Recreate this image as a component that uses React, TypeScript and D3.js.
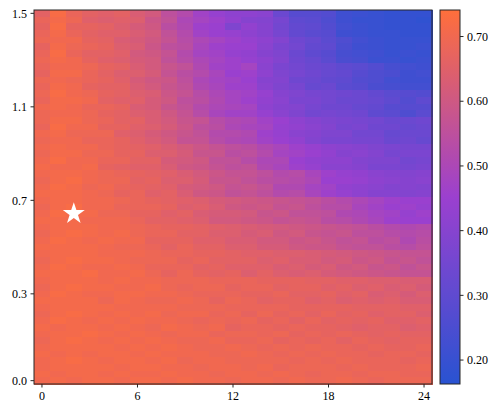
import React from "react";
import * as d3 from "d3";

// columns 0..24, rows listed from the top (y = 1.5) down to the bottom (y = 0.0)
const xValues = d3.range(0, 25);
const xTicks = [0, 6, 12, 18, 24];

// row index (0 = bottom) where each y tick sits, and its label
const yTickRows = [0, 13, 27, 41, 55];
const yTickLabels = ["0.0", "0.3", "0.7", "1.1", "1.5"];

const colorTicks = [0.2, 0.3, 0.4, 0.5, 0.6, 0.7];
const colorDomain = [0.163, 0.741];

// values in hundredths, top row first
const cellRows: number[][] = [
  [66, 72, 68, 66, 65, 66, 63, 61, 55, 52, 47, 44, 42, 42, 41, 33, 28, 28, 27, 22, 21, 20, 19, 19, 19],
  [68, 71, 69, 65, 64, 65, 64, 59, 56, 50, 48, 46, 43, 40, 39, 36, 30, 29, 26, 22, 20, 20, 19, 19, 18],
  [67, 72, 67, 67, 66, 64, 62, 60, 54, 51, 46, 45, 38, 43, 40, 35, 31, 30, 27, 23, 21, 20, 19, 19, 19],
  [68, 71, 68, 66, 65, 65, 63, 61, 56, 52, 47, 45, 44, 42, 40, 36, 31, 29, 28, 22, 21, 20, 20, 19, 19],
  [69, 70, 70, 67, 66, 63, 62, 60, 57, 53, 50, 48, 46, 44, 42, 39, 34, 32, 29, 26, 23, 21, 20, 20, 20],
  [67, 71, 69, 68, 67, 64, 63, 59, 55, 54, 49, 46, 45, 45, 41, 37, 35, 31, 30, 25, 22, 21, 20, 20, 21],
  [68, 72, 68, 66, 66, 65, 61, 60, 57, 52, 48, 47, 44, 43, 40, 38, 33, 30, 28, 24, 23, 22, 20, 21, 20],
  [69, 71, 70, 67, 65, 64, 62, 61, 56, 53, 50, 48, 46, 44, 42, 39, 34, 32, 29, 25, 24, 21, 21, 20, 21],
  [68, 70, 70, 69, 67, 66, 63, 61, 58, 56, 51, 47, 46, 48, 41, 37, 35, 33, 32, 30, 29, 27, 24, 23, 22],
  [67, 71, 71, 68, 66, 64, 64, 62, 57, 54, 52, 49, 45, 46, 42, 38, 36, 34, 32, 31, 28, 26, 25, 22, 23],
  [69, 70, 69, 68, 67, 65, 62, 60, 59, 55, 50, 48, 47, 45, 40, 39, 34, 33, 31, 30, 27, 26, 23, 22, 22],
  [68, 71, 70, 67, 66, 66, 63, 61, 58, 56, 51, 49, 46, 46, 41, 38, 36, 32, 33, 29, 28, 25, 24, 23, 23],
  [69, 72, 70, 69, 67, 66, 64, 63, 59, 57, 53, 50, 48, 47, 44, 40, 38, 36, 35, 34, 33, 31, 29, 28, 27],
  [68, 71, 71, 70, 66, 65, 65, 62, 60, 55, 54, 51, 48, 46, 43, 41, 37, 37, 35, 33, 33, 32, 30, 27, 30],
  [70, 71, 70, 68, 68, 67, 63, 62, 58, 56, 52, 50, 49, 48, 42, 40, 39, 36, 34, 34, 32, 31, 28, 28, 28],
  [69, 70, 70, 69, 67, 66, 64, 63, 60, 57, 53, 49, 47, 47, 44, 41, 38, 35, 36, 35, 34, 30, 29, 26, 29],
  [69, 71, 71, 69, 68, 66, 66, 63, 61, 58, 57, 53, 51, 50, 47, 45, 42, 40, 38, 37, 36, 35, 33, 33, 34],
  [68, 72, 70, 70, 67, 67, 65, 64, 62, 59, 55, 54, 50, 49, 48, 44, 43, 41, 39, 36, 37, 34, 34, 32, 33],
  [70, 71, 69, 69, 69, 65, 64, 62, 60, 58, 56, 52, 52, 51, 46, 44, 41, 40, 38, 38, 35, 35, 32, 33, 33],
  [69, 70, 70, 68, 68, 67, 65, 63, 61, 57, 57, 53, 51, 50, 47, 45, 43, 39, 37, 37, 36, 36, 33, 34, 32],
  [70, 71, 70, 70, 68, 67, 66, 65, 63, 61, 59, 57, 55, 54, 51, 49, 46, 44, 42, 41, 40, 38, 37, 36, 36],
  [69, 71, 71, 69, 69, 67, 67, 64, 64, 62, 58, 58, 54, 55, 52, 48, 47, 45, 43, 40, 41, 39, 36, 37, 37],
  [70, 72, 70, 70, 68, 68, 66, 66, 62, 61, 60, 56, 56, 53, 50, 50, 45, 43, 42, 42, 39, 38, 38, 35, 36],
  [71, 70, 70, 71, 67, 66, 65, 65, 63, 60, 59, 57, 55, 56, 51, 49, 46, 44, 41, 41, 40, 37, 37, 36, 37],
  [70, 71, 71, 70, 69, 68, 67, 66, 65, 63, 61, 59, 57, 57, 55, 52, 53, 49, 46, 44, 43, 41, 40, 39, 40],
  [69, 71, 72, 70, 69, 69, 66, 67, 64, 64, 62, 58, 58, 56, 54, 53, 52, 50, 45, 45, 44, 42, 41, 40, 41],
  [70, 72, 71, 69, 70, 68, 67, 66, 65, 62, 61, 60, 57, 58, 56, 51, 51, 48, 47, 43, 42, 41, 39, 40, 39],
  [71, 71, 71, 70, 69, 67, 68, 65, 66, 63, 60, 59, 56, 57, 55, 52, 53, 49, 46, 44, 42, 40, 40, 39, 40],
  [70, 71, 71, 70, 70, 69, 68, 67, 66, 65, 64, 62, 61, 60, 59, 58, 57, 56, 54, 52, 50, 48, 46, 45, 45],
  [69, 71, 72, 70, 70, 68, 68, 68, 67, 64, 65, 63, 60, 59, 60, 57, 58, 55, 53, 53, 49, 47, 45, 46, 44],
  [70, 72, 71, 71, 69, 69, 67, 67, 65, 66, 63, 62, 62, 61, 58, 59, 56, 56, 55, 51, 50, 48, 47, 44, 46],
  [71, 71, 71, 70, 70, 70, 68, 66, 66, 65, 64, 61, 61, 60, 59, 57, 58, 57, 54, 53, 51, 49, 46, 45, 45],
  [70, 71, 71, 71, 70, 70, 69, 68, 67, 67, 66, 65, 64, 63, 62, 61, 60, 59, 58, 57, 56, 54, 52, 51, 52],
  [69, 71, 72, 71, 70, 71, 69, 68, 68, 66, 66, 64, 64, 62, 63, 60, 61, 58, 57, 58, 55, 55, 53, 52, 53],
  [70, 72, 71, 70, 71, 70, 70, 67, 67, 67, 65, 65, 63, 63, 61, 61, 59, 60, 58, 56, 57, 54, 55, 51, 54],
  [71, 71, 71, 71, 70, 69, 69, 68, 66, 68, 66, 66, 64, 64, 62, 62, 60, 59, 59, 57, 56, 56, 54, 53, 55],
  [70, 71, 71, 71, 70, 70, 70, 69, 68, 68, 67, 67, 66, 65, 65, 64, 64, 63, 62, 61, 60, 59, 58, 57, 57],
  [69, 71, 72, 71, 71, 70, 69, 69, 69, 67, 68, 66, 66, 66, 64, 65, 63, 63, 61, 62, 59, 60, 57, 58, 56],
  [70, 72, 71, 70, 70, 71, 70, 68, 68, 68, 66, 67, 65, 65, 65, 63, 64, 62, 63, 60, 61, 58, 59, 56, 58],
  [71, 71, 71, 72, 70, 70, 71, 69, 67, 69, 67, 66, 67, 64, 66, 64, 63, 64, 62, 61, 60, 59, 58, 57, 57],
  [70, 71, 71, 71, 70, 71, 70, 70, 69, 69, 69, 68, 68, 68, 67, 67, 67, 66, 66, 65, 65, 64, 64, 63, 63],
  [69, 71, 72, 71, 71, 70, 70, 71, 69, 68, 69, 69, 67, 68, 68, 66, 67, 67, 65, 66, 64, 65, 63, 64, 62],
  [70, 72, 71, 70, 70, 71, 71, 70, 70, 69, 68, 68, 68, 67, 67, 68, 66, 66, 67, 65, 66, 63, 64, 62, 64],
  [71, 71, 71, 71, 69, 71, 70, 69, 69, 70, 69, 67, 69, 68, 66, 67, 67, 65, 66, 64, 65, 64, 65, 63, 63],
  [70, 71, 71, 71, 71, 70, 70, 70, 70, 69, 69, 69, 68, 68, 68, 68, 67, 67, 67, 67, 66, 66, 66, 65, 65],
  [69, 71, 72, 71, 70, 71, 70, 71, 69, 70, 70, 68, 69, 67, 69, 67, 68, 66, 68, 66, 67, 65, 66, 66, 64],
  [70, 72, 71, 70, 71, 70, 71, 70, 70, 69, 68, 69, 68, 69, 67, 68, 66, 68, 66, 67, 66, 67, 65, 65, 66],
  [71, 70, 71, 71, 70, 71, 70, 69, 71, 70, 69, 70, 67, 68, 68, 67, 68, 67, 67, 66, 65, 66, 66, 64, 65],
  [70, 71, 71, 72, 71, 70, 71, 70, 69, 70, 70, 68, 69, 69, 68, 69, 67, 68, 67, 68, 67, 66, 67, 66, 66],
  [69, 71, 72, 71, 70, 71, 70, 71, 70, 69, 69, 70, 68, 68, 69, 67, 68, 67, 68, 66, 68, 67, 66, 67, 67],
  [70, 71, 71, 71, 71, 70, 71, 70, 71, 70, 69, 69, 70, 69, 68, 69, 68, 69, 68, 68, 67, 68, 67, 67, 68],
  [71, 70, 71, 70, 71, 71, 70, 71, 70, 70, 70, 69, 69, 70, 69, 68, 69, 68, 69, 68, 68, 67, 68, 68, 67],
  [70, 71, 72, 71, 70, 71, 71, 70, 71, 69, 70, 70, 69, 69, 69, 69, 68, 69, 68, 69, 68, 68, 68, 67, 68],
  [70, 71, 71, 71, 71, 70, 71, 71, 70, 70, 69, 70, 70, 69, 70, 68, 69, 69, 69, 68, 69, 68, 68, 68, 69],
  [71, 70, 71, 71, 70, 71, 70, 70, 71, 70, 70, 69, 70, 70, 69, 70, 69, 68, 69, 69, 68, 69, 69, 68, 68],
  [70, 71, 70, 71, 71, 70, 71, 71, 70, 71, 70, 70, 69, 70, 70, 69, 70, 69, 69, 70, 69, 68, 69, 69, 69],
];

// the white star marker (column, row from bottom)
const starPoint = { col: 2, row: 25 };

const WIDTH = 498;
const HEIGHT = 413;
const plot = { left: 34, right: 432, top: 10, bottom: 384 };
const bar = { left: 440, right: 460, top: 10, bottom: 384 };
const font = "'Liberation Serif', 'DejaVu Serif', serif";
const frame = "#262626";

const App = () => {
  const nRows = cellRows.length;

  const x = d3
    .scaleLinear()
    .domain([-0.5, xValues.length - 0.5])
    .range([plot.left, plot.right]);

  const y = d3
    .scaleLinear()
    .domain([-0.5, nRows - 0.5])
    .range([plot.bottom, plot.top]);

  const color = d3
    .scaleLinear<string>()
    .domain([colorDomain[0], (colorDomain[0] + colorDomain[1]) / 2, colorDomain[1]])
    .range(["#2953d1", "#9b40cf", "#ff6f3b"])
    .interpolate(d3.interpolateRgb)
    .clamp(true);

  const cScale = d3
    .scaleLinear()
    .domain(colorDomain)
    .range([bar.bottom, bar.top]);

  const cells = cellRows.flatMap((row, i) =>
    row.map((v, c) => ({ col: xValues[c], row: nRows - 1 - i, value: v / 100 }))
  );

  const gradStops = d3.range(0, 1.0001, 0.05).map((t) => ({
    offset: t,
    color: color(colorDomain[0] + t * (colorDomain[1] - colorDomain[0])),
  }));

  const star = d3.symbol().type(d3.symbolStar).size(150)();

  return (
    <svg
      width={WIDTH}
      height={HEIGHT}
      style={{ position: "absolute", left: 0, top: 0, background: "#fff" }}
      fontFamily={font}
      fontSize={12}
    >
      <defs>
        <linearGradient id="cbar" x1="0" y1="1" x2="0" y2="0">
          {gradStops.map((s) => (
            <stop key={s.offset} offset={s.offset} stopColor={s.color} />
          ))}
        </linearGradient>
      </defs>

      <g shapeRendering="crispEdges">
        {cells.map((d) => (
          <rect
            key={`${d.col}-${d.row}`}
            x={x(d.col - 0.5)}
            y={y(d.row + 0.5)}
            width={x(d.col + 0.5) - x(d.col - 0.5) + 0.5}
            height={y(d.row - 0.5) - y(d.row + 0.5) + 0.5}
            fill={color(d.value)}
          />
        ))}
      </g>

      <path
        d={star}
        transform={`translate(${x(starPoint.col)},${y(starPoint.row)})`}
        fill="#fff"
      />

      <rect
        x={plot.left}
        y={plot.top}
        width={plot.right - plot.left}
        height={plot.bottom - plot.top}
        fill="none"
        stroke={frame}
        strokeWidth={1}
      />

      {xTicks.map((t) => (
        <g key={`x${t}`} transform={`translate(${x(t)},${plot.bottom})`}>
          <line y2={3.5} stroke={frame} />
          <text y={16} textAnchor="middle">
            {t}
          </text>
        </g>
      ))}

      {yTickRows.map((r, i) => (
        <g key={`y${r}`} transform={`translate(${plot.left},${y(r)})`}>
          <line x2={-3.5} stroke={frame} />
          <text x={-7} dy="0.35em" textAnchor="end">
            {yTickLabels[i]}
          </text>
        </g>
      ))}

      <rect
        x={bar.left}
        y={bar.top}
        width={bar.right - bar.left}
        height={bar.bottom - bar.top}
        fill="url(#cbar)"
        stroke={frame}
        strokeWidth={1}
      />
      {colorTicks.map((t) => (
        <g key={`c${t}`} transform={`translate(${bar.right},${cScale(t)})`}>
          <line x2={3.5} stroke={frame} />
          <text x={7} dy="0.35em">
            {d3.format(".2f")(t)}
          </text>
        </g>
      ))}
    </svg>
  );
};

export default App;
